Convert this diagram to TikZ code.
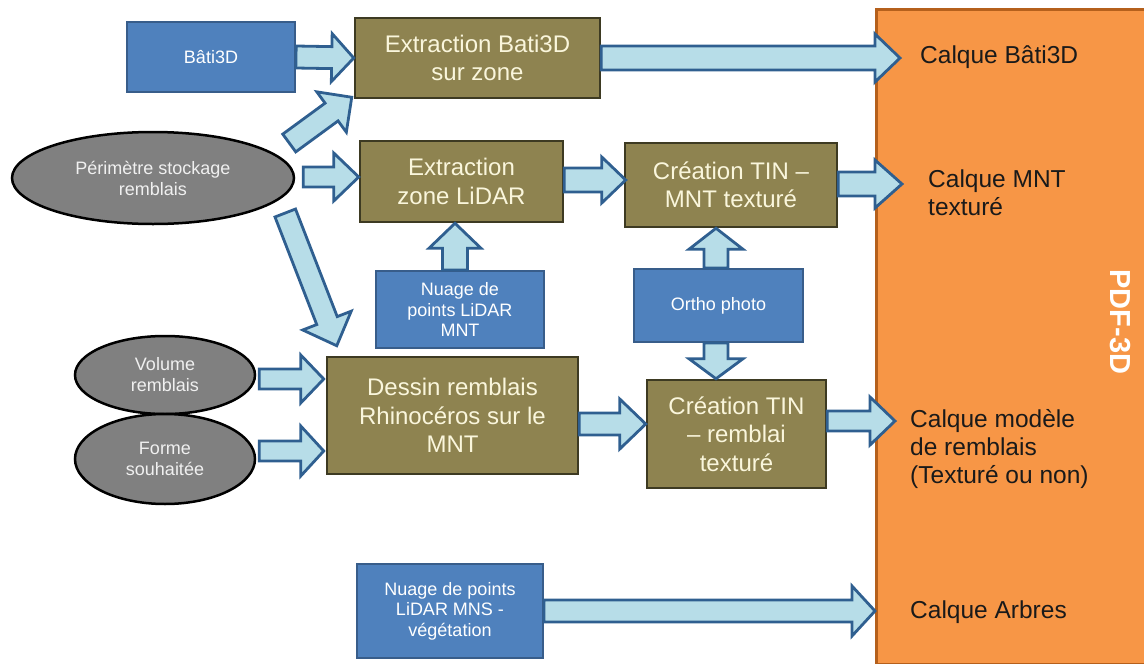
\documentclass[tikz,border=0pt]{standalone}
\usepackage{fontspec}
\setmainfont{Liberation Sans}
\usetikzlibrary{calc,shapes.geometric}

\definecolor{olivefill}{HTML}{8E8350}
\definecolor{olivedraw}{HTML}{3D3A22}
\definecolor{bluefill}{HTML}{4F81BD}
\definecolor{bluedraw}{HTML}{385D8A}
\definecolor{greyfill}{HTML}{808080}
\definecolor{greytext}{HTML}{F0F0F0}
\definecolor{orangefill}{HTML}{F79646}
\definecolor{orangedraw}{HTML}{B5601C}
\definecolor{arrowfill}{HTML}{B7DDE8}
\definecolor{arrowdraw}{HTML}{2F5F90}
\definecolor{creamtext}{HTML}{FAF6DC}
\definecolor{labeltext}{HTML}{1A1A1A}

\tikzset{
  procbox/.style={draw=olivedraw, fill=olivefill, line width=2.5pt, text=creamtext,
    font=\fontsize{24}{28.5}\selectfont, align=center, inner sep=0pt},
  databox/.style={draw=bluedraw, fill=bluefill, line width=2pt, text=white,
    font=\fontsize{18}{20.5}\selectfont, align=center, inner sep=0pt},
  inputell/.style={ellipse, draw=black, fill=greyfill, line width=2.5pt, text=greytext,
    font=\fontsize{18}{21}\selectfont, align=center, inner sep=0pt},
  layerlabel/.style={font=\fontsize{24.5}{28}\selectfont, text=labeltext, align=left,
    anchor=west, inner sep=0pt},
  pdfpanel/.style={draw=orangedraw, fill=orangefill, line width=2.5pt, anchor=north west,
    inner sep=0pt},
  flowarrow/.style={draw=arrowdraw, fill=arrowfill, line width=2.8pt, line join=miter},
}

% block arrow: tail, tip, shaft half-width, head half-width, head length
\newcommand\blockarrow[5]{%
  \coordinate (ba-a) at (#1);
  \coordinate (ba-b) at (#2);
  \coordinate (ba-base) at ($(ba-b)!#5!(ba-a)$);
  \draw[flowarrow]
    ($(ba-a)!#3!90:(ba-b)$) -- ($(ba-base)!#3!90:(ba-b)$) --
    ($(ba-base)!#4!90:(ba-b)$) -- (ba-b) --
    ($(ba-base)!#4!-90:(ba-b)$) -- ($(ba-base)!#3!-90:(ba-b)$) --
    ($(ba-a)!#3!-90:(ba-b)$) -- cycle;
}

\begin{document}
\begin{tikzpicture}[x=1pt, y=-1pt]
\useasboundingbox (0,0) rectangle (1144,664);
\clip (0,0) rectangle (1144,664);

% output panel
\node[pdfpanel, minimum width=290pt, minimum height=655pt] (pdf) at (875,8) {};
\node[rotate=-90, font=\bfseries\fontsize{29}{30}\selectfont, text=white] (pdftitle) at (1120,322) {PDF-3D};

% layer labels
\node[layerlabel] (lbati) at (920,57) {Calque Bâti3D};
\node[layerlabel] (lmnt) at (928,193) {Calque MNT\\texturé};
\node[layerlabel] (lremb) at (910,449) {Calque modèle\\de remblais\\(Texturé ou non)};
\node[layerlabel] (larb) at (910,612) {Calque Arbres};

% inputs
\node[databox, minimum width=168pt, minimum height=70pt] (bati) at (211,57) {Bâti3D};
\node[inputell, minimum width=282pt, minimum height=92pt] (perim) at (153,178) {Périmètre stockage\\remblais};
\node[databox, minimum width=168pt, minimum height=77pt] (nlm) at (460,309.5) {Nuage de\\points LiDAR\\MNT};
\node[databox, minimum width=169pt, minimum height=73pt] (ortho) at (718.5,305.5) {Ortho photo};
\node[inputell, minimum width=180pt, minimum height=78pt] (vol) at (165,375) {Volume\\remblais};
\node[inputell, minimum width=180pt, minimum height=90pt] (forme) at (165,459) {Forme\\souhaitée};
\node[databox, minimum width=186pt, minimum height=94pt] (nveg) at (450,611) {Nuage de points\\LiDAR MNS -\\végétation};

% processing steps
\node[procbox, minimum width=245pt, minimum height=80pt] (extb) at (477.5,58) {Extraction Bati3D\\sur zone};
\node[procbox, minimum width=203pt, minimum height=81pt] (extz) at (461.5,181.5) {Extraction\\zone LiDAR};
\node[procbox, minimum width=212pt, minimum height=84pt] (tinm) at (731,185) {Création TIN –\\MNT texturé};
\node[procbox, minimum width=251pt, minimum height=117pt] (dessin) at (452.5,415.5) {Dessin remblais\\Rhinocéros sur le\\MNT};
\node[procbox, minimum width=179pt, minimum height=108pt] (tinr) at (736.5,434) {Création TIN\\– remblai\\texturé};

% arrow ends inside the output panel
\coordinate (inbati) at (900,58);
\coordinate (inmnt) at (902,184);
\coordinate (inremb) at (895,421);
\coordinate (inarb) at (875,611);

% flows
\blockarrow{bati.east}{extb.west}{11pt}{24pt}{22pt}
\blockarrow{extb.east}{inbati}{12pt}{24pt}{25pt}
\blockarrow{$(perim.east)+(-6,-35)$}{$(extb.south west)+(-2,-2)$}{11pt}{25pt}{25pt}
\blockarrow{$(perim.east)+(8,-1)$}{$(extz.west)+(0,-4.5)$}{10pt}{24pt}{25pt}
\blockarrow{$(extz.east)+(0,-1.5)$}{$(tinm.west)+(2,-5)$}{12pt}{23pt}{24pt}
\blockarrow{$(tinm.east)+(0,-1)$}{inmnt}{12pt}{24pt}{27pt}
\blockarrow{$(nlm.north)+(-5,0)$}{$(extz.south)+(-6.5,0)$}{12.5pt}{26pt}{25pt}
\blockarrow{$(ortho.north)+(-2.5,0)$}{$(tinm.south)+(-15,0)$}{12pt}{27pt}{21pt}
\blockarrow{$(ortho.south)+(-2.5,0)$}{$(tinr.north)+(-20.5,0)$}{12pt}{27pt}{20pt}
\blockarrow{$(perim.east)+(-10,35)$}{$(dessin.north west)+(11,-10)$}{11pt}{26pt}{27pt}
\blockarrow{$(vol.east)+(3,4)$}{$(dessin.west)+(-2,-36.5)$}{10pt}{24pt}{23pt}
\blockarrow{$(forme.east)+(3,-8)$}{$(dessin.west)+(-2,35.5)$}{10pt}{25pt}{23pt}
\blockarrow{$(dessin.east)+(0,8.5)$}{$(tinr.west)+(0,-10)$}{11pt}{25pt}{26pt}
\blockarrow{$(tinr.east)+(0,-13)$}{inremb}{10pt}{24pt}{25pt}
\blockarrow{nveg.east}{inarb}{11pt}{25pt}{23pt}
\end{tikzpicture}
\end{document}
